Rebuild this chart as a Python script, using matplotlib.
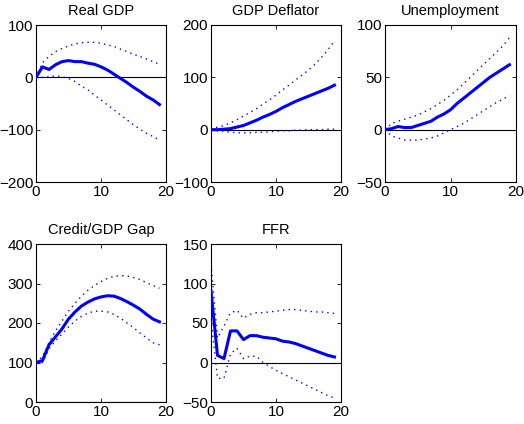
import matplotlib
matplotlib.use("Agg")
import matplotlib.pyplot as plt
import numpy as np

plt.rcParams['font.family'] = ['Liberation Sans', 'DejaVu Sans']

horizon = list(range(20))

titles = ["Real GDP", "GDP Deflator", "Unemployment", "Credit/GDP Gap", "FFR"]

gdp_med = [0, 20, 15, 24, 30, 32, 30, 30, 27, 25, 20, 14, 6, -2, -10, -19, -27, -36, -43, -52]
gdp_up = [0, 28, 40, 49, 55, 60, 64, 66, 67, 67, 65, 62, 59, 54, 49, 44, 40, 35, 30, 25]
gdp_lo = [0, 0, 1, 3, 1, -2, -8, -17, -24, -34, -43, -53, -62, -72, -81, -91, -99, -107, -113, -120]

defl_med = [0, 0, 1, 2, 5, 8, 13, 18, 24, 29, 35, 42, 48, 54, 59, 64, 69, 74, 79, 85]
defl_up = [0, 5, 8, 13, 19, 26, 33, 40, 49, 57, 66, 76, 85, 95, 104, 114, 125, 138, 153, 170]
defl_lo = [0, -2, -3, -5, -6, -6, -6, -5, -5, -4, -3, -2, -2, -1, -1, 0, 0, 0, 1, 1]

unemp_med = [0, 1, 3, 2, 2, 4, 6, 8, 12, 15, 19, 25, 30, 35, 40, 45, 50, 54, 58, 62]
unemp_up = [0, 6, 8, 10, 12, 14, 17, 20, 24, 28, 33, 38, 44, 50, 56, 62, 68, 74, 80, 88]
unemp_lo = [0, -6, -8, -10, -10, -10, -9, -8, -6, -3, 0, 3, 6, 10, 14, 18, 22, 26, 29, 33]

credit_med = [100, 105, 145, 165, 185, 210, 228, 243, 253, 261, 266, 269, 268, 262, 254, 245, 235, 222, 210, 203]
credit_up = [100, 115, 150, 180, 205, 230, 250, 268, 283, 295, 305, 313, 318, 320, 319, 315, 310, 302, 295, 288]
credit_lo = [100, 100, 135, 155, 172, 190, 205, 217, 225, 230, 230, 228, 222, 212, 200, 188, 175, 162, 150, 145]

ffr_med = [91, 9, 5, 40, 40, 29, 34, 34, 32, 31, 30, 27, 26, 24, 21, 18, 15, 12, 9, 7]
ffr_up = [125, 31, 46, 63, 66, 56, 61, 63, 63, 64, 65, 66, 67, 67, 66, 65, 64, 64, 63, 62]
ffr_lo = [55, -20, -20, 11, 18, 5, 8, 8, 0, -5, -10, -14, -18, -22, -26, -30, -34, -38, -42, -45]

ylims = [(-200, 100), (-100, 200), (-50, 100), (0, 400), (-50, 150)]
yticks = [[-200, -100, 0, 100], [-100, 0, 100, 200], [-50, 0, 50, 100],
          [0, 100, 200, 300, 400], [-50, 0, 50, 100, 150]]
xticks = [0, 10, 20]

series = [(gdp_med, gdp_up, gdp_lo), (defl_med, defl_up, defl_lo),
          (unemp_med, unemp_up, unemp_lo), (credit_med, credit_up, credit_lo),
          (ffr_med, ffr_up, ffr_lo)]

W, H = 524, 424
fig = plt.figure(figsize=(W / 100, H / 100), dpi=100)

# pixel boxes: left, top, right, bottom
boxes = [(36, 25, 166, 182), (211, 25, 341, 182), (385, 25, 516, 182),
         (36, 244, 166, 402), (211, 244, 341, 402)]

for i, (box, (med, up, lo)) in enumerate(zip(boxes, series)):
    l, t, r, b = box
    ax = fig.add_axes([l / W, 1 - b / H, (r - l) / W, (b - t) / H])
    ax.plot([0, 20], [0, 0], color='black', lw=0.8, zorder=1)
    ax.plot(horizon, up, color='blue', lw=1.0, linestyle=(0, (1, 3)), zorder=2)
    ax.plot(horizon, lo, color='blue', lw=1.0, linestyle=(0, (1, 3)), zorder=2)
    ax.plot(horizon, med, color='blue', lw=2.2, zorder=3)
    ax.set_xlim(0, 20)
    ax.set_ylim(*ylims[i])
    ax.set_xticks(xticks)
    ax.set_yticks(yticks[i])
    ax.tick_params(direction='in', length=3, width=0.6, labelsize=11,
                   top=True, right=True, pad=2)
    for s in ax.spines.values():
        s.set_linewidth(0.8)
    ax.set_title(titles[i], fontsize=10.5, pad=7)

fig.savefig("out.png", dpi=100)
